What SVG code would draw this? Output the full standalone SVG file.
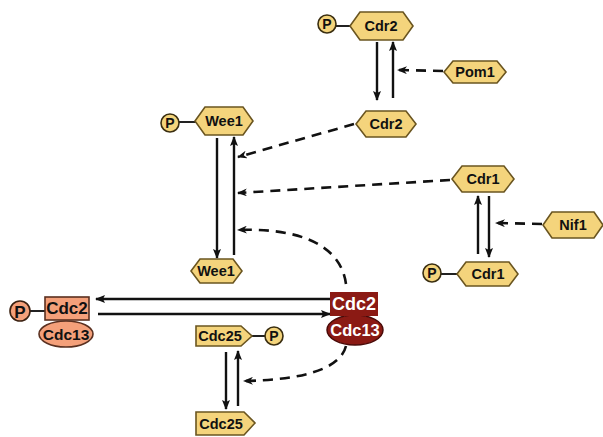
<svg xmlns="http://www.w3.org/2000/svg" width="603" height="437" viewBox="0 0 603 437">
<defs>
<marker id="ah" markerWidth="10" markerHeight="8" refX="9" refY="4" orient="auto" markerUnits="userSpaceOnUse">
<path d="M0,0 L10,4 L0,8 L2,4 Z" fill="#111"/>
</marker>
<marker id="dh" markerWidth="10" markerHeight="8" refX="9" refY="4" orient="auto" markerUnits="userSpaceOnUse">
<path d="M0,0 L10,4 L0,8 L3,4 Z" fill="#111"/>
</marker>
</defs>
<style>
.hex{fill:#f4d47c;stroke:#6a5520;stroke-width:1.6}
.pc{fill:#f4d47c;stroke:#3a2e10;stroke-width:1.6}
.t{font-family:"Liberation Sans",Arial,sans-serif;font-weight:bold;font-size:14.5px;fill:#111;text-anchor:middle;dominant-baseline:central}
.pt{font-family:"Liberation Sans",Arial,sans-serif;font-weight:bold;font-size:14px;fill:#111;text-anchor:middle;dominant-baseline:central}
.ln{stroke:#222;stroke-width:2;fill:none}
.ar{stroke:#111;stroke-width:2.4;fill:none;marker-end:url(#ah)}
.da{stroke:#111;stroke-width:2.6;fill:none;stroke-dasharray:10,7;marker-end:url(#dh)}
</style>
<rect width="603" height="437" fill="#fff"/>

<g id="connectors">
<line class="ar" x1="377" y1="42" x2="377" y2="100"/>
<line class="ar" x1="393" y1="98" x2="393" y2="42"/>
<line class="da" x1="443" y1="71" x2="398" y2="70"/>
<line class="da" x1="354" y1="124" x2="238" y2="157"/>
<line class="ar" x1="217" y1="138" x2="217" y2="258"/>
<line class="ar" x1="234" y1="255" x2="234" y2="137"/>
<line class="da" x1="450" y1="180" x2="238" y2="193"/>
<path class="da" d="M346,284 C340,240 290,228 238,230"/>
<line class="ar" x1="478" y1="254" x2="478" y2="196"/>
<line class="ar" x1="489" y1="196" x2="489" y2="257"/>
<line class="da" x1="542" y1="224" x2="496" y2="223"/>
<line class="ar" x1="330" y1="299" x2="96" y2="299"/>
<line class="ar" x1="98" y1="314" x2="330" y2="314"/>
<line class="ar" x1="226" y1="352" x2="226" y2="409"/>
<line class="ar" x1="238" y1="406" x2="238" y2="351"/>
<path class="da" d="M346,346 C340,370 300,380 244,381"/>
</g>

<g id="cdr2-p">
<line class="ln" x1="336" y1="26" x2="352" y2="26"/>
<circle class="pc" cx="327" cy="24" r="9"/>
<text class="pt" x="327" y="24">P</text>
<polygon class="hex" points="350,26 360,12 403,12 413,26 403,40 360,40"/>
<text class="t" x="381" y="26">Cdr2</text>
</g>
<g id="pom1">
<polygon class="hex" points="444,72 453,61 497,61 506,72 497,83 453,83"/>
<text class="t" x="475" y="72">Pom1</text>
</g>
<g id="cdr2">
<polygon class="hex" points="356,124 366,111 406,111 416,124 406,137 366,137"/>
<text class="t" x="386" y="124">Cdr2</text>
</g>

<g id="wee1-p">
<line class="ln" x1="179" y1="122" x2="197" y2="122"/>
<circle class="pc" cx="170" cy="123" r="9"/>
<text class="pt" x="170" y="123">P</text>
<polygon class="hex" points="195,121 205,107 243,107 253,121 243,135 205,135"/>
<text class="t" x="224" y="121">Wee1</text>
</g>
<g id="wee1">
<polygon class="hex" points="191,271 200,259 233,259 242,271 233,283 200,283"/>
<text class="t" x="216" y="271">Wee1</text>
</g>

<g id="cdr1">
<polygon class="hex" points="452,179 462,166 504,166 514,179 504,192 462,192"/>
<text class="t" x="483" y="179">Cdr1</text>
</g>
<g id="nif1">
<polygon class="hex" points="543,225 552,212 594,212 603,225 594,238 552,238"/>
<text class="t" x="573" y="225">Nif1</text>
</g>
<g id="cdr1-p">
<line class="ln" x1="441" y1="274" x2="459" y2="274"/>
<circle class="pc" cx="432" cy="273" r="9"/>
<text class="pt" x="432" y="273">P</text>
<polygon class="hex" points="457,274 466,262 509,262 518,274 509,286 466,286"/>
<text class="t" x="488" y="274">Cdr1</text>
</g>

<g id="cdc2-cdc13-p">
<line class="ln" x1="30" y1="311" x2="46" y2="311"/>
<circle cx="20" cy="311" r="10" fill="#f4a07a" stroke="#3a2010" stroke-width="1.6"/>
<text class="t" x="20" y="312" style="font-size:17px">P</text>
<ellipse cx="66" cy="334" rx="27" ry="13" fill="#f4a07a" stroke="#5a3020" stroke-width="1.6"/>
<text class="t" x="66" y="334" style="font-size:15.5px">Cdc13</text>
<rect x="45" y="297" width="44" height="23" fill="#f4a07a" stroke="#5a3020" stroke-width="1.6"/>
<text class="t" x="67" y="308" style="font-size:17px">Cdc2</text>
</g>

<g id="cdc2-cdc13">
<ellipse cx="355" cy="330" rx="28" ry="15" fill="#8b1a14" stroke="#4a0a08" stroke-width="1.5"/>
<text class="t" x="355" y="330" style="font-size:16.5px;fill:#fff">Cdc13</text>
<rect x="330" y="292" width="48" height="24" fill="#8b1a14"/>
<text class="t" x="354" y="304" style="font-size:18px;fill:#fff">Cdc2</text>
</g>

<g id="cdc25-p">
<line class="ln" x1="252" y1="336" x2="266" y2="336"/>
<circle class="pc" cx="274" cy="336" r="9"/>
<text class="pt" x="274" y="336">P</text>
<polygon class="hex" points="196,326 241,326 252,336 241,346 196,346"/>
<text class="t" x="220" y="336">Cdc25</text>
</g>
<g id="cdc25">
<polygon class="hex" points="196,412 244,412 255,423 244,435 196,435"/>
<text class="t" x="221" y="424">Cdc25</text>
</g>
</svg>
